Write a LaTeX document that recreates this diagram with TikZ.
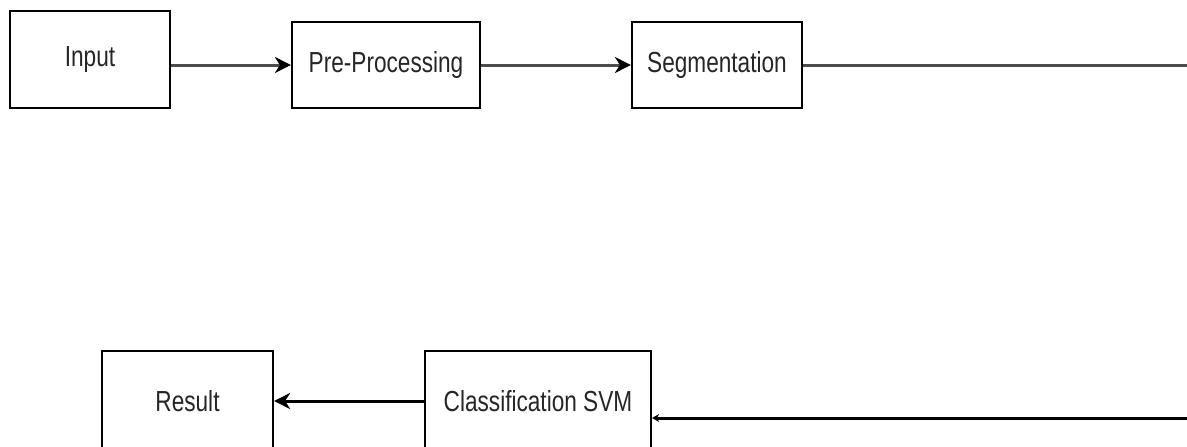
\documentclass[tikz,border=0pt]{standalone}
\usepackage{fontspec}
\setmainfont{Liberation Sans}[FakeStretch=0.78]
\usetikzlibrary{arrows.meta}
\tikzset{
  stage/.style={draw=black, line width=2.2pt, fill=white, rectangle,
    inner sep=0pt, font=\fontsize{29}{31}\selectfont, text=black!85},
  flow/.style={draw=black!70, line width=3pt,
    -{Stealth[length=16pt,width=16pt,inset=5pt,color=black]}},
  link/.style={draw=black!70, line width=3pt},
}
\begin{document}
\begin{tikzpicture}[x=1pt,y=1pt]
  \clip (0,0) rectangle (1187,-447);
  \fill[white] (0,0) rectangle (1187,-447);

  % upper row
  \node[stage, minimum width=160pt, minimum height=97pt] (in) at (90,-59.5) {Input};
  \node[stage, minimum width=188pt, minimum height=86pt] (pre) at (386,-65) {Pre-Processing};
  \node[stage, minimum width=170pt, minimum height=86pt] (seg) at (717,-65) {Segmentation};

  % lower row
  \node[stage, minimum width=171pt, minimum height=100pt] (res) at (187.5,-401) {Result};
  \node[stage, minimum width=226pt, minimum height=100pt] (svm) at (538,-401) {Classification SVM};

  % return path turns around just past the right edge
  \coordinate (turnA) at (1200,-65);
  \coordinate (turnB) at (1200,-418);

  \draw[flow] (in.east |- pre.west) -- (pre.west);
  \draw[flow] (pre.east) -- (seg.west);
  \draw[link] (seg.east) -- (turnA) -- (turnB);
  \draw[draw=black, line width=3pt, -{Stealth[length=7pt,width=8pt]}] (turnB) -- (svm.east |- turnB);
  \draw[flow, draw=black] (svm.west |- res.east) -- (res.east);
\end{tikzpicture}
\end{document}
